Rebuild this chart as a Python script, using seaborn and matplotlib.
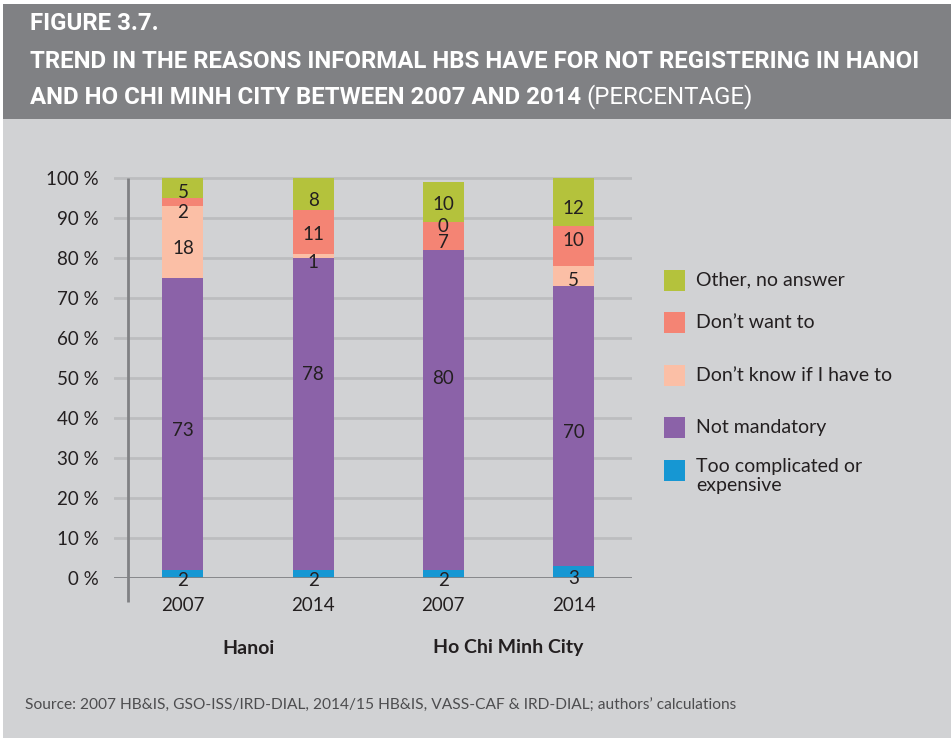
import matplotlib
matplotlib.use("Agg")
import matplotlib.pyplot as plt
from matplotlib.patches import Rectangle
import seaborn as sns
import pandas as pd

# ---------------- data ----------------
bars = ["Hanoi 2007", "Hanoi 2014", "HCMC 2007", "HCMC 2014"]
year_labels = ["2007", "2014", "2007", "2014"]
group_labels = ["Hanoi", "Ho Chi Minh City"]
y_ticks = [0, 10, 20, 30, 40, 50, 60, 70, 80, 90, 100]

too_complicated = [2, 2, 2, 3]
not_mandatory = [73, 78, 80, 70]
dont_know = [18, 1, 0, 5]
dont_want = [2, 11, 7, 10]
other = [5, 8, 10, 12]

series_names = ["Too complicated or\nexpensive", "Not mandatory",
                "Don\u2019t know if I have to", "Don\u2019t want to", "Other, no answer"]
series_values = [too_complicated, not_mandatory, dont_know, dont_want, other]
series_colors = ["#1697d3", "#8b62a8", "#fbbfa6", "#f48474", "#b4c23c"]

# label fine-tuning (in percentage points), keyed by (bar index, series index)
label_nudge = {(1, 1): 11.5, (2, 1): 9.5, (2, 2): 7.5, (2, 4): 1.0,
               (3, 3): 3.0, (3, 2): 0.5, (1, 3): 1.0, (0, 3): -1.0, (0, 4): 0.5}

# ---------------- style ----------------
sns.set_theme(style="white")
plt.rcParams["font.family"] = ["Lato", "DejaVu Sans"]
BG = "#d1d2d4"
HEADER = "#808184"
TXT = "#231f20"

fig = plt.figure(figsize=(9.51, 7.38), dpi=100)
fig.patch.set_facecolor(BG)
W, H = 951, 738

def fx(px):
    return px / W

def fy(py):
    return 1 - py / H

# header band
fig.patches.append(Rectangle((fx(3), fy(119)), 1 - fx(3), fy(4) - fy(119),
                             transform=fig.transFigure, facecolor=HEADER,
                             edgecolor="none", zorder=0))
fig.patches.append(Rectangle((0, fy(4)), 1, 1 - fy(4), transform=fig.transFigure,
                             facecolor="white", edgecolor="none", zorder=0))
fig.patches.append(Rectangle((0, 0), fx(3), 1, transform=fig.transFigure,
                             facecolor="white", edgecolor="none", zorder=0))

TFAM = ["Roboto", "DejaVu Sans"]
line2 = "TREND IN THE REASONS INFORMAL HBS HAVE FOR NOT REGISTERING IN HANOI"
probe = fig.text(0, 0, line2, family=TFAM, weight="bold", fontsize=16)
fig.canvas.draw()
pw = probe.get_window_extent().width
probe.remove()
tsize = 16 * 890 / pw

tfont = dict(family=TFAM, weight="bold", color="white", fontsize=tsize,
             va="center", ha="left")
fig.text(fx(30), fy(23), "FIGURE 3.7.", **tfont)
fig.text(fx(30), fy(62), line2, **tfont)
t3 = fig.text(fx(30), fy(97), "AND HO CHI MINH CITY BETWEEN 2007 AND 2014", **tfont)
fig.canvas.draw()
bb = t3.get_window_extent()
fig.text(bb.x1 / W + fx(5), fy(97), "(PERCENTAGE)", family=TFAM, color="white",
         fontsize=tsize, va="center", ha="left")

# ---------------- axes ----------------
ax = fig.add_axes([fx(114), fy(578), fx(632) - fx(114), (578 - 174) / H])
ax.set_facecolor("none")

df = pd.DataFrame({"bar": bars})
bottom = [0] * len(bars)
for name, vals, col in zip(series_names, series_values, series_colors):
    df["v"] = vals
    df["b"] = bottom
    sns.barplot(data=df, x="bar", y="v", order=bars, color=col, width=0.315,
                bottom=df["b"], ax=ax, saturation=1, linewidth=0, zorder=3)
    bottom = [b + v for b, v in zip(bottom, vals)]

# value labels
bottom = [0] * len(bars)
for si, vals in enumerate(series_values):
    for bi, v in enumerate(vals):
        y = bottom[bi] + v / 2 - 1.5 + label_nudge.get((bi, si), 0)
        ax.text(bi, y, f"{v}", ha="center", va="center", fontsize=13.5,
                color=TXT, zorder=5)
    bottom = [b + v for b, v in zip(bottom, vals)]

ax.set_xlim(-0.53, 3.45)
ax.set_ylim(0, 101)
for s in ax.spines.values():
    s.set_visible(False)
ax.set_yticks(y_ticks)
ax.set_yticklabels([f"{t} %" for t in y_ticks], fontsize=13.5, color=TXT)
ax.tick_params(axis="y", length=0, pad=11)
ax.set_xticks(range(len(bars)))
ax.set_xticklabels(year_labels, fontsize=13.5, color=TXT)
ax.tick_params(axis="x", length=0, pad=14)
ax.set_xlabel("")
ax.set_ylabel("")
for t in y_ticks[1:]:
    ax.axhline(t, color="#bcbdbf", lw=2, zorder=1)
ax.axhline(0, color="#808184", lw=2, zorder=4)
ax.plot([-0.42, -0.42], [-6, 100], color="#808184", lw=2, zorder=2,
        clip_on=False, solid_capstyle="butt")

# group labels
for gi, g in enumerate(group_labels):
    ax.text(gi * 2 + 0.5, -17.5, g, ha="center", va="center", fontsize=14,
            weight="bold", color=TXT, clip_on=False)

# ---------------- legend ----------------
leg_items = [(4, 280), (3, 323), (2, 375), (1, 427), (0, 470)]
for si, py in leg_items:
    fig.patches.append(Rectangle((fx(664), fy(py + 10.5)), fx(21), 21 / H,
                                 transform=fig.transFigure,
                                 facecolor=series_colors[si], edgecolor="none"))
    if si == 0:
        fig.text(fx(696), fy(py - 12), series_names[si], ha="left", va="top",
                 fontsize=14, color=TXT, linespacing=1.15)
    else:
        fig.text(fx(696), fy(py), series_names[si], ha="left", va="center",
                 fontsize=14, color=TXT)

fig.text(fx(25), fy(706), "Source: 2007 HB&IS, GSO-ISS/IRD-DIAL, 2014/15 HB&IS, VASS-CAF & IRD-DIAL; authors\u2019 calculations",
         ha="left", va="center", fontsize=11.2, color="#4d4d4f")

fig.savefig("out.png", dpi=100, facecolor=fig.get_facecolor())
